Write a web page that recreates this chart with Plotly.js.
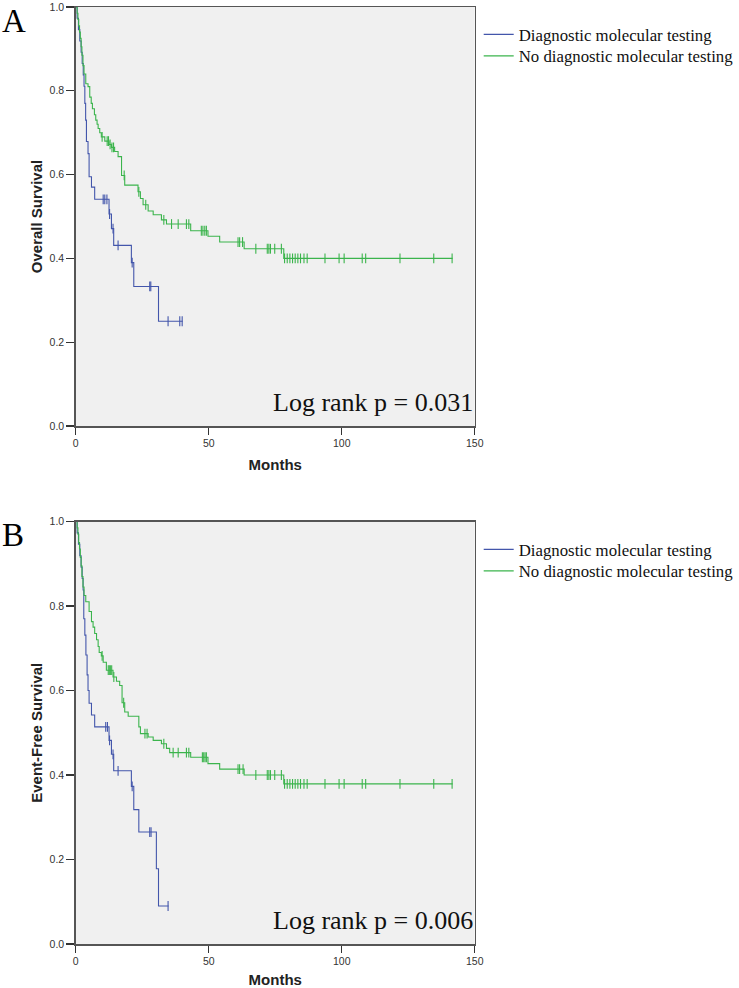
<!DOCTYPE html>
<html>
<head>
<meta charset="utf-8">
<script src="https://cdn.plot.ly/plotly-3.0.1.min.js"></script>
<style>html,body{margin:0;padding:0;background:#fff;}#chart{width:739px;height:988px;}</style>
</head>
<body>
<div id="chart"></div>
<script>
// ---------- Data ----------
const seriesNames = ["Diagnostic molecular testing", "No diagnostic molecular testing"];
const xTicks = [0, 50, 100, 150];
const yTicks = [0.0, 0.2, 0.4, 0.6, 0.8, 1.0];

// Panel A: Overall Survival
const osDiagTimes = [0, 0.5, 1.0, 1.5, 2.0, 2.4, 2.8, 3.1, 3.4, 3.7, 4.0, 4.6, 5.0, 5.9, 7.1, 12.5, 13.4, 14.25, 20.9, 21.8, 31.1];
const osDiagSurv  = [1.0, 0.973, 0.946, 0.919, 0.892, 0.865, 0.838, 0.811, 0.77, 0.73, 0.679, 0.65, 0.595, 0.57, 0.541, 0.506, 0.471, 0.431, 0.39, 0.333, 0.25];
const osDiagCensor = [10.3, 10.9, 11.7, 12.7, 14.0, 15.9, 21.2, 27.8, 28.2, 34.7, 39.1, 40.0];
const osDiagEnd = 40.2;

const osNoTimes = [0, 0.5, 0.8, 1.1, 1.4, 1.7, 2.0, 2.3, 2.7, 3.1, 3.75, 4.6, 5.25, 5.8, 6.25, 7.0, 7.5, 8.0, 8.4, 9.0, 9.6, 10.9, 12.5, 13.4, 14.6, 15.9, 17.2, 18.4, 23.4, 24.3, 25.3, 27.2, 29.1, 32.2, 34.1, 43.2, 49.7, 54.1, 63.3, 78.2];
const osNoSurv  = [1.0, 0.985, 0.97, 0.955, 0.94, 0.925, 0.905, 0.885, 0.86, 0.84, 0.817, 0.81, 0.785, 0.77, 0.757, 0.743, 0.73, 0.72, 0.71, 0.70, 0.69, 0.68, 0.672, 0.665, 0.655, 0.643, 0.598, 0.575, 0.559, 0.543, 0.528, 0.513, 0.504, 0.492, 0.482, 0.466, 0.453, 0.439, 0.423, 0.40];
const osNoCensor = [9.9, 11.8, 12.3, 12.9, 13.6, 14.2, 18.2, 23.7, 26.3, 33.1, 36.0, 38.5, 41.6, 42.5, 47.2, 47.8, 48.5, 49.1, 61.0, 61.6, 62.7, 67.7, 72.0, 72.6, 73.2, 74.8, 77.3, 78.5, 79.5, 80.5, 81.5, 82.5, 83.5, 84.5, 85.8, 87.0, 93.7, 99.0, 100.9, 107.7, 109.0, 121.9, 134.6, 141.5];
const osNoEnd = 141.7;

// Panel B: Event-Free Survival
const efsDiagTimes = [0, 0.5, 1.0, 1.5, 2.0, 2.4, 2.75, 3.0, 3.4, 3.8, 4.25, 4.6, 5.0, 5.9, 7.1, 12.5, 13.4, 14.25, 20.9, 21.8, 23.7, 30.3, 31.1];
const efsDiagSurv  = [1.0, 0.973, 0.946, 0.919, 0.892, 0.865, 0.838, 0.77, 0.731, 0.684, 0.637, 0.60, 0.57, 0.542, 0.514, 0.482, 0.449, 0.41, 0.373, 0.318, 0.265, 0.178, 0.09];
const efsDiagCensor = [11.25, 11.9, 12.7, 14.0, 15.9, 21.2, 27.8, 28.3, 34.7];
const efsDiagEnd = 34.9;

const efsNoTimes = [0, 0.5, 0.8, 1.1, 1.4, 1.7, 2.0, 2.3, 2.7, 3.1, 3.75, 5.0, 5.9, 6.5, 7.1, 7.8, 8.4, 8.8, 9.6, 10.3, 11.5, 14.0, 15.3, 16.5, 17.4, 18.4, 19.7, 23.7, 24.3, 27.2, 29.1, 32.2, 34.1, 35.3, 43.2, 49.7, 54.1, 63.3, 78.2];
const efsNoSurv  = [1.0, 0.985, 0.97, 0.95, 0.935, 0.915, 0.895, 0.87, 0.845, 0.825, 0.81, 0.787, 0.763, 0.75, 0.735, 0.72, 0.704, 0.69, 0.682, 0.667, 0.648, 0.632, 0.622, 0.612, 0.571, 0.549, 0.539, 0.514, 0.498, 0.49, 0.482, 0.474, 0.463, 0.453, 0.442, 0.427, 0.414, 0.40, 0.379];
const efsNoCensor = [9.9, 12.2, 12.6, 13.0, 13.5, 14.3, 18.0, 26.0, 26.8, 33.1, 36.6, 38.5, 41.6, 42.5, 47.6, 48.1, 48.6, 49.1, 61.0, 61.6, 62.9, 67.7, 72.0, 72.6, 73.2, 74.8, 77.3, 78.5, 79.5, 80.5, 81.5, 82.5, 83.5, 84.5, 85.8, 87.0, 93.7, 99.0, 100.9, 107.7, 109.0, 121.9, 134.6, 141.5];
const efsNoEnd = 141.7;

const pTextA = "Log rank p = 0.031";
const pTextB = "Log rank p = 0.006";

// ---------- Styling ----------
const BLUE = "#4356ab";
const GREEN = "#3bb44c";
const serif = "Liberation Serif, Times New Roman, serif";
const sans = "Liberation Sans, Arial, sans-serif";

function survAt(times, surv, t) {
  let v = surv[0];
  for (let i = 0; i < times.length; i++) { if (times[i] <= t) v = surv[i]; }
  return v;
}

function kmTraces(times, surv, censor, end, color, name, xa, ya, legendId) {
  const lx = times.concat([end]);
  const ly = surv.concat([surv[surv.length - 1]]);
  return [
    { x: lx, y: ly, type: "scatter", mode: "lines", line: { shape: "hv", color: color, width: 1.1 },
      name: name, xaxis: xa, yaxis: ya, legend: legendId, showlegend: true, hoverinfo: "skip" },
    { x: censor, y: censor.map(t => survAt(times, surv, t)), type: "scatter", mode: "markers",
      marker: { symbol: "line-ns", size: 7, color: color, line: { color: color, width: 1.1 } },
      xaxis: xa, yaxis: ya, showlegend: false, hoverinfo: "skip", cliponaxis: false }
  ];
}

const data = [].concat(
  kmTraces(osDiagTimes, osDiagSurv, osDiagCensor, osDiagEnd, BLUE, seriesNames[0], "x", "y", "legend"),
  kmTraces(osNoTimes, osNoSurv, osNoCensor, osNoEnd, GREEN, seriesNames[1], "x", "y", "legend2"),
  kmTraces(efsDiagTimes, efsDiagSurv, efsDiagCensor, efsDiagEnd, BLUE, seriesNames[0], "x2", "y2", "legend3"),
  kmTraces(efsNoTimes, efsNoSurv, efsNoCensor, efsNoEnd, GREEN, seriesNames[1], "x2", "y2", "legend4")
);

const W = 739, H = 988;
const xDom = [76 / W, 476 / W];
const yDomA = [1 - 426 / H, 1 - 7 / H];
const yDomB = [1 - 944 / H, 1 - 521.5 / H];

function xAxis(anchor) {
  return {
    domain: xDom, anchor: anchor, range: [0, 150], tickvals: xTicks, ticktext: xTicks.map(String),
    ticks: "outside", ticklen: 7, tickwidth: 1.2, tickcolor: "#333",
    showline: true, linecolor: "#555", linewidth: 1.5, mirror: true,
    showgrid: false, zeroline: false, automargin: false, ticklabeloverflow: "allow",
    tickfont: { family: sans, size: 10.5, color: "#333" },
    title: { text: "Months", font: { family: sans, size: 15, weight: "bold", color: "#222" }, standoff: 11 }
  };
}
function yAxis(anchor, domain, title) {
  return {
    domain: domain, anchor: anchor, range: [0, 1], tickvals: yTicks, ticktext: yTicks.map(v => v.toFixed(1)),
    ticks: "outside", ticklen: 8, tickwidth: 1.2, tickcolor: "#333",
    showline: true, linecolor: "#555", linewidth: 1.5, mirror: true,
    showgrid: false, zeroline: false, automargin: false, ticklabeloverflow: "allow",
    tickfont: { family: sans, size: 10.5, color: "#333" },
    title: { text: title, font: { family: sans, size: 15, weight: "bold", color: "#222" }, standoff: 3 }
  };
}
function legendAt(ypx) {
  return { x: 480 / W, xanchor: "left", y: 1 - ypx / H, yanchor: "middle",
    bgcolor: "rgba(0,0,0,0)", borderwidth: 0, itemwidth: 30,
    font: { family: serif, size: 16.8, color: "#111" } };
}

const layout = {
  width: W, height: H,
  margin: { l: 0, r: 0, t: 0, b: 0 },
  paper_bgcolor: "#ffffff", plot_bgcolor: "#f0f0f0",
  showlegend: true,
  xaxis: xAxis("y"), yaxis: yAxis("x", yDomA, "Overall Survival"),
  xaxis2: xAxis("y2"), yaxis2: yAxis("x2", yDomB, "Event-Free Survival"),
  legend: legendAt(34.5), legend2: legendAt(56), legend3: legendAt(549.5), legend4: legendAt(571),
  annotations: [
    { text: pTextA, xref: "x domain", yref: "y domain", x: 0.99, y: 0.02, xanchor: "right", yanchor: "bottom",
      xshift: 4, yshift: -1, showarrow: false, font: { family: serif, size: 26, color: "#111" } },
    { text: pTextB, xref: "x2 domain", yref: "y2 domain", x: 0.99, y: 0.02, xanchor: "right", yanchor: "bottom",
      xshift: 4, yshift: -1, showarrow: false, font: { family: serif, size: 26, color: "#111" } },
    { text: "A", xref: "paper", yref: "paper", x: 0, y: 1 - 1 / H, xanchor: "left", yanchor: "top",
      showarrow: false, font: { family: serif, size: 33, color: "#000" } },
    { text: "B", xref: "paper", yref: "paper", x: 0, y: 1 - 515 / H, xanchor: "left", yanchor: "top",
      showarrow: false, font: { family: serif, size: 33, color: "#000" } }
  ]
};

Plotly.newPlot("chart", data, layout, { displayModeBar: false, staticPlot: true });
</script>
</body>
</html>
